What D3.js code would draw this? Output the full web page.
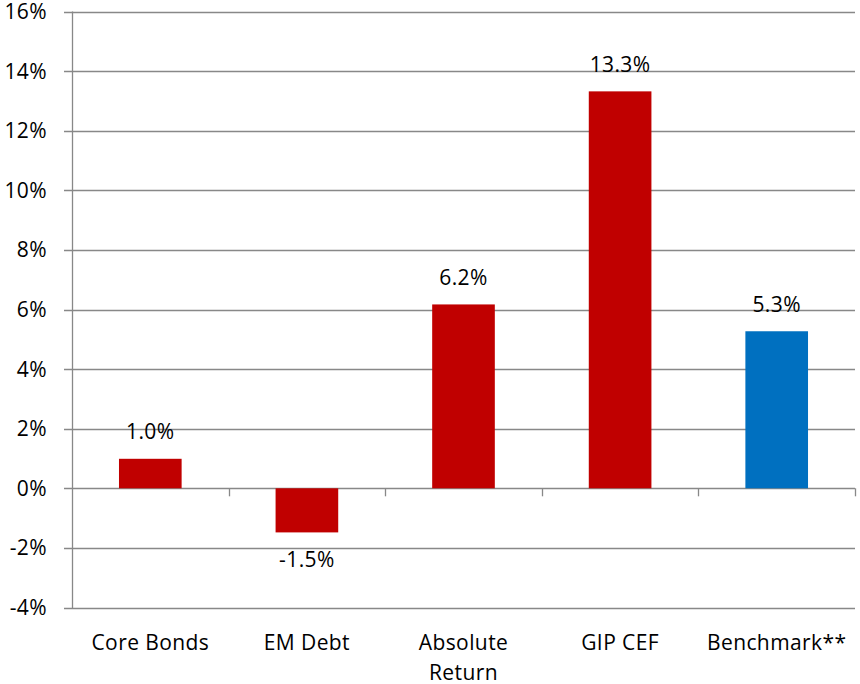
<!DOCTYPE html>
<html>
<head>
<meta charset="utf-8">
<script src="https://cdn.jsdelivr.net/npm/d3@7"></script>
<style>
  body { margin: 0; background: #fff; }
  svg text { font-family: "Open Sans", Lato, sans-serif; fill: #000; letter-spacing: 0.4px; }
</style>
</head>
<body>
<svg id="chart"></svg>
<script>
var categories = [["Core Bonds"], ["EM Debt"], ["Absolute", "Return"], ["GIP CEF"], ["Benchmark**"]];
var returns = [0.99, -1.48, 6.17, 13.32, 5.27];
var barColors = ["#C00000", "#C00000", "#C00000", "#C00000", "#0070C0"];
var yTicks = [-4, -2, 0, 2, 4, 6, 8, 10, 12, 14, 16];

var width = 860, height = 684;
var plotLeft = 72, plotRight = 855, plotTop = 11.5, plotBottom = 607.5;
var fontSize = "21px";

var svg = d3.select("#chart").attr("width", width).attr("height", height);

var x = d3.scaleBand().domain(d3.range(categories.length)).range([plotLeft, plotRight]).paddingInner(0.6).paddingOuter(0.3);
var y = d3.scaleLinear().domain([-4, 16]).range([plotBottom, plotTop]);
var fmt = function(d) { return d3.format(".1f")(d).replace("\u2212", "-") + "%"; };

// grid lines + y tick marks
svg.selectAll("line.grid")
  .data(yTicks)
  .enter().append("line")
  .attr("class", "grid")
  .attr("x1", plotLeft - 8).attr("x2", plotRight)
  .attr("y1", function(d) { return Math.round(y(d)) + 0.5; })
  .attr("y2", function(d) { return Math.round(y(d)) + 0.5; })
  .attr("stroke", "#888")
  .attr("stroke-width", 1.3);

svg.selectAll("text.ylab")
  .data(yTicks)
  .enter().append("text")
  .attr("class", "ylab")
  .attr("x", plotLeft - 25).attr("y", function(d) { return y(d); })
  .attr("dy", "0.36em")
  .attr("text-anchor", "end")
  .style("font-size", fontSize)
  .text(function(d) { return d + "%"; });

// vertical axis
svg.append("line")
  .attr("x1", plotLeft + 0.5).attr("x2", plotLeft + 0.5)
  .attr("y1", plotTop).attr("y2", plotBottom + 0.5)
  .attr("stroke", "#888").attr("stroke-width", 1.3);

// category ticks on zero line
var bounds = d3.range(categories.length + 1).map(function(i) { return plotLeft + i * (plotRight - plotLeft) / categories.length; });
svg.selectAll("line.ctick")
  .data(bounds.slice(1))
  .enter().append("line")
  .attr("x1", function(d) { return Math.round(d) + 0.5; }).attr("x2", function(d) { return Math.round(d) + 0.5; })
  .attr("y1", y(0)).attr("y2", y(0) + 8)
  .attr("stroke", "#888").attr("stroke-width", 1.3);

// bars
svg.selectAll("rect.bar")
  .data(returns)
  .enter().append("rect")
  .attr("class", "bar")
  .attr("x", function(d, i) { return x(i); })
  .attr("width", x.bandwidth())
  .attr("y", function(d) { return y(Math.max(0, d)); })
  .attr("height", function(d) { return Math.abs(y(d) - y(0)); })
  .attr("fill", function(d, i) { return barColors[i]; });

// data labels
svg.selectAll("text.val")
  .data(returns)
  .enter().append("text")
  .attr("class", "val")
  .attr("x", function(d, i) { return x(i) + x.bandwidth() / 2; })
  .attr("y", function(d) { return d >= 0 ? y(d) - 19.5 : y(d) + 35; })
  .attr("text-anchor", "middle")
  .style("font-size", fontSize)
  .text(fmt);

// category labels
var cl = svg.selectAll("text.cat")
  .data(categories)
  .enter().append("text")
  .attr("class", "cat")
  .attr("x", function(d, i) { return x(i) + x.bandwidth() / 2; })
  .attr("y", 650)
  .attr("text-anchor", "middle")
  .style("font-size", fontSize);
cl.selectAll("tspan")
  .data(function(d) { return d; })
  .enter().append("tspan")
  .attr("x", function() { return d3.select(this.parentNode).attr("x"); })
  .attr("dy", function(d, i) { return i === 0 ? 0 : 30; })
  .text(function(d) { return d; });
</script>
</body>
</html>
